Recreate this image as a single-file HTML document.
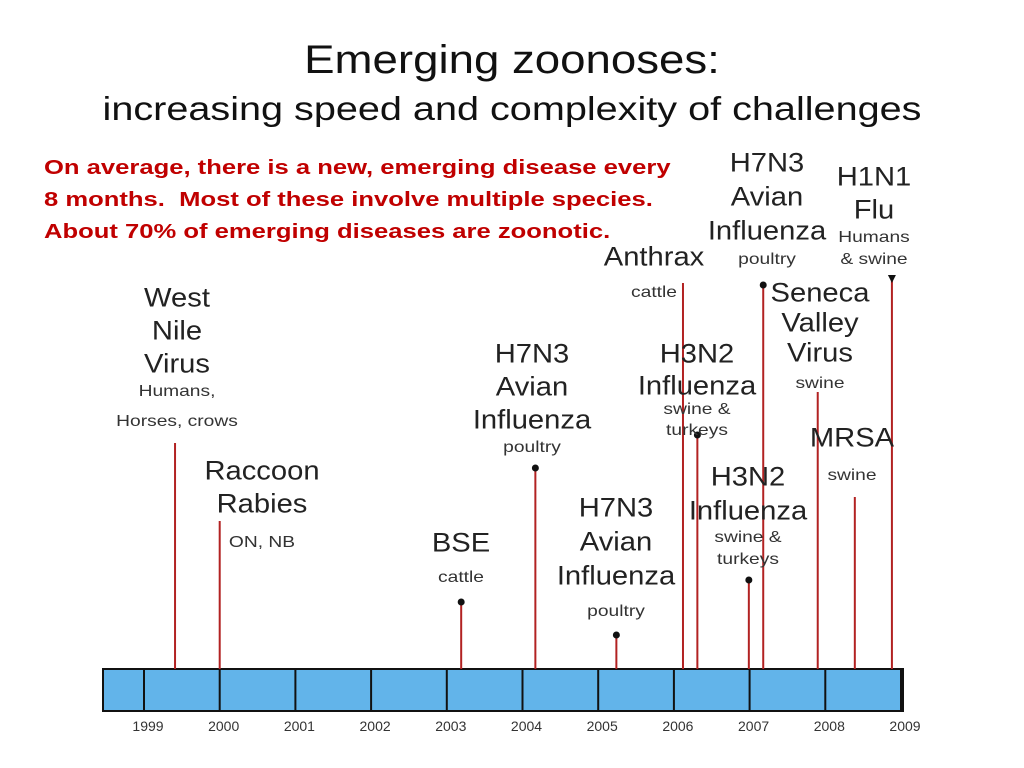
<!DOCTYPE html>
<html><head><meta charset="utf-8">
<style>
body{margin:0;width:1024px;height:768px;background:#fff;position:relative;overflow:hidden;font-family:"Liberation Sans",Arial,sans-serif}
.t{position:absolute;transform:translate(-50%,-50%) scaleX(1.08);white-space:nowrap;color:#222;line-height:1}
.big{font-size:27px}
.sm{font-size:16px;color:#333;transform:translate(-50%,-50%) scaleX(1.2)}
#title{position:absolute;left:0;width:1024px;text-align:center;top:38px;font-size:40px;color:#111;transform:scaleX(1.14)}
#subtitle{position:absolute;left:0;width:1024px;text-align:center;top:90px;font-size:33px;color:#111;transform:scaleX(1.2)}
#note{position:absolute;left:44px;top:152px;font-size:20px;font-weight:bold;color:#c00000;line-height:32px;transform-origin:0 0;transform:scaleX(1.28);white-space:nowrap}
</style></head><body>
<div id="title">Emerging zoonoses:</div>
<div id="subtitle">increasing speed and complexity of challenges</div>
<div id="note">On average, there is a new, emerging disease every<br>8 months.&nbsp; Most of these involve multiple species.<br>About 70% of emerging diseases are zoonotic.</div>
<svg id="chart" width="1024" height="768" style="position:absolute;left:0;top:0"></svg>
<div id="labels"></div>
<script>
const yearLabels=["1999","2000","2001","2002","2003","2004","2005","2006","2007","2008","2009"];
const eventNames=["West Nile Virus","Raccoon Rabies","BSE","H7N3 Avian Influenza","H7N3 Avian Influenza","Anthrax","H3N2 Influenza","H3N2 Influenza","H7N3 Avian Influenza","Seneca Valley Virus","MRSA","H1N1 Flu"];
const eventYears=[1999.41,2000.0,2003.19,2004.17,2005.24,2006.12,2006.31,2006.99,2007.18,2007.9,2008.39,2008.88];
const eventTitles=[["West","Nile","Virus"],["Raccoon","Rabies"],["BSE"],["H7N3","Avian","Influenza"],["H7N3","Avian","Influenza"],["Anthrax"],["H3N2","Influenza"],["H3N2","Influenza"],["H7N3","Avian","Influenza"],["Seneca","Valley","Virus"],["MRSA"],["H1N1","Flu"]];
const eventHosts=[["Humans,","Horses, crows"],["ON, NB"],["cattle"],["poultry"],["poultry"],["cattle"],["swine &","turkeys"],["swine &","turkeys"],["poultry"],["swine"],["swine"],["Humans","& swine"]];
// layout (not data)
const lineTop=[443,521,602,468,635,283,435,580,285,392,497,275];
const markers=["none","none","dot","dot","dot","none","dot","dot","dot","none","none","arrow"];
const labelX=[177,262,461,532,616,654,697,748,767,820,852,874];
const titleY=[298,471,543,354,508,257,354,477,163,293,438,177];
const titleStep=[33,33,33,33,34,33,32,34,34,30,33,33];
const hostY=[[392,422],[543],[578],[448],[612],[293],[410,431],[538,560],[260],[384],[476],[238,260]];

const x0=144,dx=75.7,barTop=669,barBot=711;
const X=y=>x0+(y-1999)*dx;
const svg=document.getElementById('chart');
const NS='http://www.w3.org/2000/svg';
function mk(tag,attrs){const e=document.createElementNS(NS,tag);for(const k in attrs)e.setAttribute(k,attrs[k]);svg.appendChild(e);return e;}

const bar=mk('rect',{x:103,y:barTop,width:X(2009)-103+2,height:barBot-barTop,fill:'#62b4ea',stroke:'#111','stroke-width':2});


yearLabels.forEach((yl,i)=>{
  const xx=X(+yl);
  const d=mk('line',{x1:xx,x2:xx,y1:barTop,y2:barBot,stroke:'#111','stroke-width':2});
  
  
  const t=mk('text',{x:xx+4,y:731,'text-anchor':'middle','font-size':14,fill:'#333','font-family':'Liberation Sans, Arial, sans-serif'});
  t.textContent=yl;
  
  
});
eventYears.forEach((ey,i)=>{
  const xx=X(ey);
  const l=mk('line',{x1:xx,x2:xx,y1:lineTop[i],y2:barTop,stroke:'#b22222','stroke-width':2});
  
  
  if(markers[i]==='dot'){const c=mk('circle',{cx:xx,cy:lineTop[i],r:3.5,fill:'#111'});
    
    }
  if(markers[i]==='arrow'){const p=mk('path',{d:`M${xx-4},${lineTop[i]} L${xx+4},${lineTop[i]} L${xx},${lineTop[i]+8}Z`,fill:'#111'});
    
    }
});
const lab=document.getElementById('labels');
eventNames.forEach((n,i)=>{
  const g=document.createElement('div');
  
  
  g.title=n;
  eventTitles[i].forEach((w,j)=>{
    const d=document.createElement('div');d.className='t big';d.textContent=w;
    d.style.left=labelX[i]+'px';d.style.top=(titleY[i]+j*titleStep[i])+'px';g.appendChild(d);
  });
  eventHosts[i].forEach((w,j)=>{
    const d=document.createElement('div');d.className='t sm';d.textContent=w;
    d.style.left=labelX[i]+'px';d.style.top=hostY[i][j]+'px';g.appendChild(d);
  });
  lab.appendChild(g);
});
</script>
</body></html>
